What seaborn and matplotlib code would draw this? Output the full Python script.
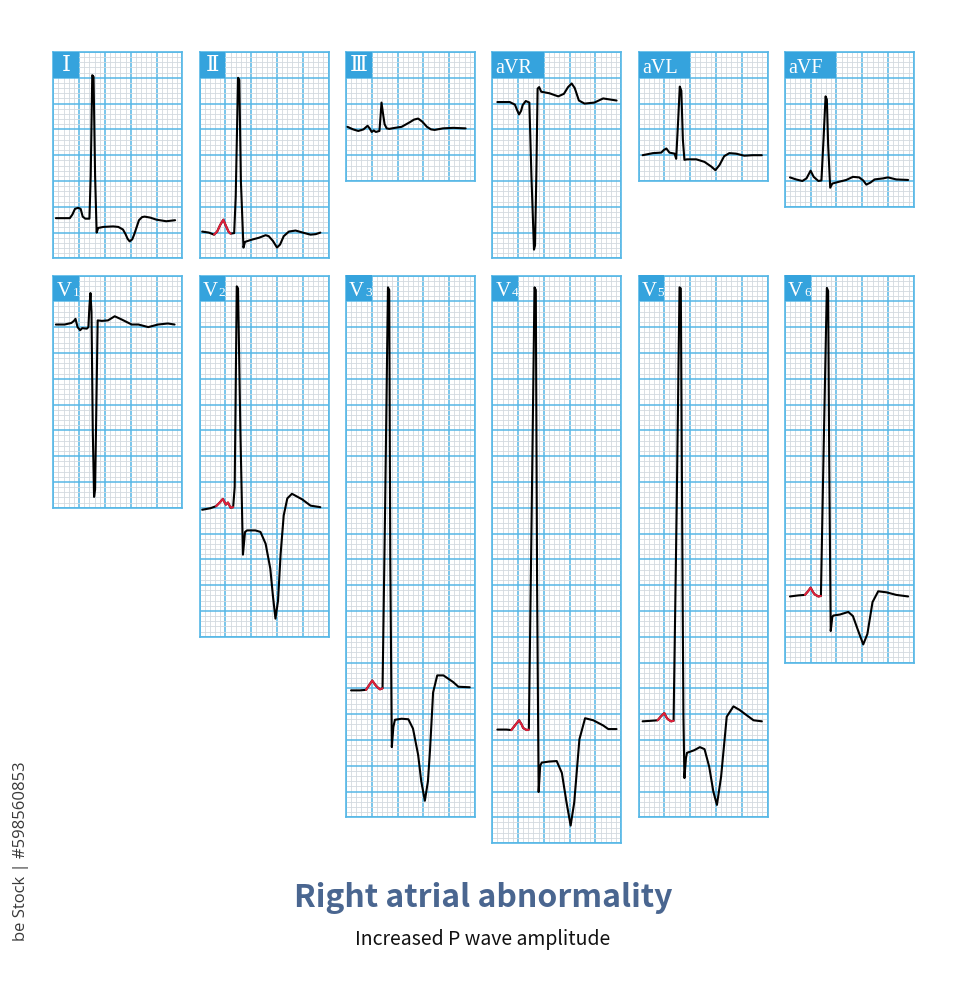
import matplotlib
matplotlib.use("Agg")
import matplotlib.pyplot as plt
import seaborn as sns
import numpy as np
from matplotlib.patches import Rectangle

sns.set_theme(style="white")
plt.rcParams['font.family'] = ['DejaVu Sans']

# ---------------- data (x: mm at 25 mm/s, y: mm above panel bottom, 10 mm = 1 mV) -------------
lead_I_x = [0.5, 2.0, 3.2, 3.7, 4.2, 4.8, 5.3, 5.7, 6.2, 7.0, 7.25, 7.55, 7.8, 8.1, 8.4, 8.7, 9.7, 11.6, 12.6,
            13.5, 14.0, 14.4, 14.8, 15.3, 15.7, 16.0, 16.6, 17.2, 17.7, 18.8, 20.0, 21.9, 23.6]
lead_I_y = [7.8, 7.8, 7.8, 8.5, 9.6, 9.8, 9.6, 8.1, 7.7, 7.7, 16, 35.5, 35.2, 16, 5.0, 5.9, 6.1, 6.2, 6.1,
            5.6, 4.7, 3.8, 3.3, 3.7, 4.7, 5.6, 7.4, 8.0, 8.1, 7.9, 7.5, 7.2, 7.4]

lead_II_x = [0.5, 1.8, 2.8, 3.4, 4.0, 4.6, 5.1, 5.6, 6.0, 6.7, 7.0, 7.45, 7.7, 8.0, 8.5, 8.8, 10.0, 11.5, 12.8,
             13.4, 14.2, 15.0, 15.6, 16.3, 17.3, 18.6, 20.0, 21.5, 22.5, 23.4]
lead_II_y = [5.2, 5.0, 4.6, 5.2, 6.5, 7.5, 6.3, 5.2, 4.8, 4.9, 12, 35.0, 34.6, 15, 2.1, 3.2, 3.6, 4.0, 4.5,
             4.3, 3.4, 2.1, 2.7, 4.3, 5.2, 5.4, 5.0, 4.6, 4.7, 5.0]

lead_III_x = [0.3, 1.4, 2.4, 3.4, 4.2, 4.6, 5.0, 5.4, 5.8, 6.5, 6.75, 6.9, 7.2, 7.5, 7.9, 8.4, 9.5, 10.8,
              12.4, 13.2, 14.0, 14.8, 15.7, 16.5, 17.2, 18.8, 20.8, 23.2]
lead_III_y = [10.5, 10.0, 9.7, 10.0, 10.7, 10.2, 9.5, 9.8, 9.5, 9.7, 13, 15.2, 13, 11, 10.2, 10.1, 10.3, 10.5,
              11.4, 11.9, 12.1, 11.5, 10.5, 10.0, 9.9, 10.2, 10.3, 10.2]

lead_aVR_x = [1.0, 2.2, 3.4, 4.4, 4.8, 5.2, 5.6, 5.9, 6.5, 7.2, 7.6, 8.1, 8.3, 8.55, 8.8, 9.1, 9.5, 11.1,
              12.8, 13.9, 14.7, 15.4, 16.0, 16.8, 17.9, 19.8, 21.5, 24.1]
lead_aVR_y = [30.3, 30.3, 30.3, 29.8, 28.8, 27.9, 28.6, 29.7, 30.5, 30.2, 16, 1.7, 2.5, 16, 32.9, 33.2, 32.3,
              32.0, 31.4, 31.9, 33.2, 33.9, 33.0, 30.6, 30.0, 30.2, 31.0, 30.6]

lead_aVL_x = [0.8, 2.8, 4.4, 4.9, 5.4, 6.0, 7.0, 7.3, 7.7, 8.0, 8.3, 8.6, 8.9, 9.4, 11.2, 12.8, 14.1, 14.9,
              15.7, 16.6, 17.6, 18.9, 20.5, 22.1, 23.9]
lead_aVL_y = [5.0, 5.4, 5.5, 6.0, 6.3, 5.5, 5.3, 4.3, 12, 18.3, 17.5, 8, 4.1, 4.2, 4.2, 3.7, 2.8, 2.1,
              3.1, 4.8, 5.4, 5.3, 4.9, 5.0, 5.0]

lead_aVF_x = [1.0, 2.2, 3.4, 4.2, 5.0, 5.6, 6.5, 7.1, 7.5, 7.9, 8.15, 8.4, 8.8, 9.2, 10.3, 11.9, 13.2, 14.4,
              15.2, 15.8, 16.6, 17.4, 19.0, 20.0, 21.6, 23.9]
lead_aVF_y = [5.7, 5.3, 5.0, 5.5, 7.0, 5.8, 5.0, 5.1, 13, 21.4, 20.8, 12, 3.7, 4.5, 4.8, 5.2, 5.8, 5.7,
              5.1, 4.3, 4.7, 5.3, 5.5, 5.7, 5.3, 5.2]

lead_V1_x = [0.5, 2.2, 3.5, 4.0, 4.3, 4.7, 5.2, 5.6, 6.5, 6.8, 7.0, 7.2, 7.4, 7.65, 7.9, 8.1, 8.35, 8.6,
             9.4, 10.6, 11.9, 13.2, 15.2, 16.5, 18.4, 20.3, 22.2, 23.5]
lead_V1_y = [35.5, 35.5, 35.8, 36.2, 36.6, 35.0, 34.4, 34.8, 34.7, 35.0, 39, 41.6, 38, 15, 2.1, 3.5, 20, 36.3,
             36.2, 36.3, 37.1, 36.5, 35.5, 35.5, 35.0, 35.5, 35.7, 35.5]

lead_V2_x = [0.5, 2.1, 3.2, 3.9, 4.5, 5.1, 5.5, 6.0, 6.5, 6.8, 7.2, 7.45, 7.9, 8.4, 8.8, 9.2, 10.8, 11.8,
             12.8, 13.7, 14.2, 14.7, 15.2, 15.7, 16.3, 17.0, 17.9, 19.9, 21.5, 23.4]
lead_V2_y = [24.6, 24.9, 25.3, 26.0, 26.7, 25.6, 26.0, 25.0, 25.1, 29, 67.9, 67.5, 40, 15.9, 20.3, 20.6, 20.6,
             20.3, 18.0, 13.2, 8.0, 3.5, 7.0, 16, 23.5, 26.8, 27.7, 26.6, 25.4, 25.1]

lead_V3_x = [1.0, 2.7, 3.9, 4.5, 5.1, 5.6, 6.0, 6.6, 7.1, 7.6, 8.15, 8.4, 8.6, 8.9, 9.2, 9.5, 10.8, 12.1,
             13.0, 14.0, 14.6, 15.3, 15.9, 16.3, 16.9, 17.7, 18.9, 20.8, 21.8, 24.0]
lead_V3_y = [24.6, 24.6, 24.7, 25.6, 26.5, 25.8, 25.3, 24.8, 25.0, 60, 102.7, 102.2, 50, 13.6, 17.5, 18.9, 19.1,
             19.0, 17.2, 12.1, 7.0, 3.2, 7.0, 13, 24.2, 27.5, 27.5, 26.2, 25.3, 25.2]

lead_V4_x = [1.0, 2.8, 3.7, 4.4, 5.2, 5.7, 6.0, 6.7, 7.1, 7.6, 8.2, 8.45, 8.7, 9.0, 9.3, 9.6, 11.0, 12.5,
             13.5, 14.4, 15.2, 15.9, 16.9, 18.0, 19.6, 21.5, 22.5, 24.1]
lead_V4_y = [22.0, 22.0, 21.9, 22.8, 23.8, 23.0, 22.3, 21.9, 22.0, 60, 107.7, 107.2, 50, 9.9, 15.0, 15.6,
             15.8, 15.9, 13.6, 7.9, 3.4, 7.9, 20.1, 24.2, 23.8, 22.8, 22.1, 22.1]

lead_V5_x = [0.8, 2.4, 3.7, 4.3, 5.0, 5.4, 5.7, 6.3, 6.8, 7.4, 7.95, 8.2, 8.45, 8.7, 8.9, 9.2, 9.4, 10.8,
             11.9, 12.8, 13.7, 14.5, 15.2, 16.0, 17.1, 18.4, 19.6, 20.8, 22.3, 23.9]
lead_V5_y = [18.6, 18.7, 18.8, 19.5, 20.2, 19.4, 19.0, 18.6, 18.7, 60, 102.7, 102.5, 60, 20, 7.6, 11.5, 12.5,
             13.0, 13.6, 13.2, 9.8, 5.0, 2.4, 7.8, 19.5, 21.5, 20.8, 19.9, 18.8, 18.6]

lead_V6_x = [1.0, 2.6, 3.9, 4.5, 5.0, 5.5, 5.8, 6.5, 7.0, 7.5, 8.15, 8.4, 8.6, 8.9, 9.2, 9.4, 10.7, 12.3,
             13.2, 14.2, 15.2, 16.0, 17.0, 18.1, 19.7, 21.6, 23.9]
lead_V6_y = [12.8, 13.0, 13.1, 13.8, 14.5, 13.6, 13.2, 12.8, 12.9, 40, 72.6, 72.0, 40, 6.1, 8.8, 9.1, 9.3,
             9.8, 9.0, 6.2, 3.5, 5.5, 11.7, 13.8, 13.6, 13.1, 12.8]

# index spans of the highlighted (red) P waves
p_span_II = [2, 9]
p_span_V2 = [2, 9]
p_span_V3 = [2, 9]
p_span_V4 = [2, 9]
p_span_V5 = [2, 9]
p_span_V6 = [2, 9]

lead_names = ["I", "II", "III", "aVR", "aVL", "aVF", "V1", "V2", "V3", "V4", "V5", "V6"]
panel_rows = [8, 8, 5, 8, 5, 6, 9, 14, 21, 22, 21, 15]   # number of 5-mm rows per panel

traces = {
    "I": (lead_I_x, lead_I_y, None),
    "II": (lead_II_x, lead_II_y, p_span_II),
    "III": (lead_III_x, lead_III_y, None),
    "aVR": (lead_aVR_x, lead_aVR_y, None),
    "aVL": (lead_aVL_x, lead_aVL_y, None),
    "aVF": (lead_aVF_x, lead_aVF_y, None),
    "V1": (lead_V1_x, lead_V1_y, None),
    "V2": (lead_V2_x, lead_V2_y, p_span_V2),
    "V3": (lead_V3_x, lead_V3_y, p_span_V3),
    "V4": (lead_V4_x, lead_V4_y, p_span_V4),
    "V5": (lead_V5_x, lead_V5_y, p_span_V5),
    "V6": (lead_V6_x, lead_V6_y, p_span_V6),
}

# ---------------- style / layout ----------------
MAJOR = "#56B7E6"
MINOR = "#D2D9DF"
LABEL_BG = "#35A3DD"
RED = "#E0203A"
FW, FH = 969, 1000
PX_PER_MM = 5.16
col_left = [53.3, 199.6, 345.9, 492.2, 638.5, 784.8]
row_top = [52.0, 275.5]

fig = plt.figure(figsize=(FW / 100, FH / 100), dpi=100)
fig.patch.set_facecolor("white")

roman = {"I": "\u2160", "II": "\u2161", "III": "\u2162"}

for i, name in enumerate(lead_names):
    r, c = divmod(i, 6)
    rows = panel_rows[i]
    H = rows * 5
    wpx = 25 * PX_PER_MM
    hpx = H * PX_PER_MM
    left = col_left[c]
    top = row_top[r]
    ax = fig.add_axes([left / FW, 1 - (top + hpx) / FH, wpx / FW, hpx / FH])
    xs, ys, span = traces[name]
    sns.lineplot(x=xs, y=ys, sort=False, estimator=None, color="black", linewidth=1.5,
                 ax=ax, zorder=5)
    if span is not None:
        a, b = span
        sns.lineplot(x=xs[a:b], y=ys[a:b], sort=False, estimator=None, color=RED,
                     linewidth=1.5, ax=ax, zorder=6)
    ax.set_xlim(0, 25)
    ax.set_ylim(0, H)
    ax.set_xticks(np.arange(0, 26, 5))
    ax.set_xticks(np.arange(0, 26, 1), minor=True)
    ax.set_yticks(np.arange(0, H + 1, 5))
    ax.set_yticks(np.arange(0, H + 1, 1), minor=True)
    ax.tick_params(which="both", length=0, labelbottom=False, labelleft=False)
    ax.set_xlabel("")
    ax.set_ylabel("")
    ax.set_axisbelow(True)
    ax.grid(which="minor", color=MINOR, linewidth=0.6)
    ax.grid(which="major", color=MAJOR, linewidth=1.1)
    for sp in ax.spines.values():
        sp.set_color(MAJOR)
        sp.set_linewidth(1.2)
    ax.set_facecolor("white")

    # label box
    bw = 10 if name.startswith("a") else 5
    ax.add_patch(Rectangle((0, H - 5), bw, 5, facecolor=LABEL_BG, edgecolor="none",
                           zorder=3, clip_on=False))
    if name in roman:
        ax.text(2.5, H - 2.5, roman[name], color="white", fontsize=16.5, ha="center",
                va="center", family=["DejaVu Serif", "DejaVu Sans"], zorder=4)
    elif name.startswith("a"):
        ax.text(0.65, H - 4.05, name, color="white", fontsize=14.5, ha="left",
                va="baseline", family=["Liberation Serif"], zorder=4)
    else:
        ax.text(0.6, H - 3.9, "V", color="white", fontsize=15, ha="left",
                va="baseline", family=["Liberation Serif"], zorder=4)
        ax.text(3.7, H - 3.9, name[1], color="white", fontsize=9.5, ha="left",
                va="baseline", family=["Liberation Serif"], zorder=4)

fig.text(483 / FW, 1 - 907 / FH, "Right atrial abnormality", ha="center", va="baseline",
         fontsize=23, fontweight="bold", color="#4A6690",
         family=["Noto Sans CJK SC", "DejaVu Sans"])
fig.text(483 / FW, 1 - 945 / FH, "Increased P wave amplitude", ha="center", va="baseline",
         fontsize=14, color="#111111", family=["Noto Sans CJK SC", "DejaVu Sans"])
fig.text(21 / FW, 1 - 851 / FH, "be Stock | #598560853", ha="center", va="center",
         rotation=90, fontsize=12, color="#3A3A3A", family=["Open Sans", "DejaVu Sans"])

fig.savefig("out.png", dpi=100, facecolor="white")
